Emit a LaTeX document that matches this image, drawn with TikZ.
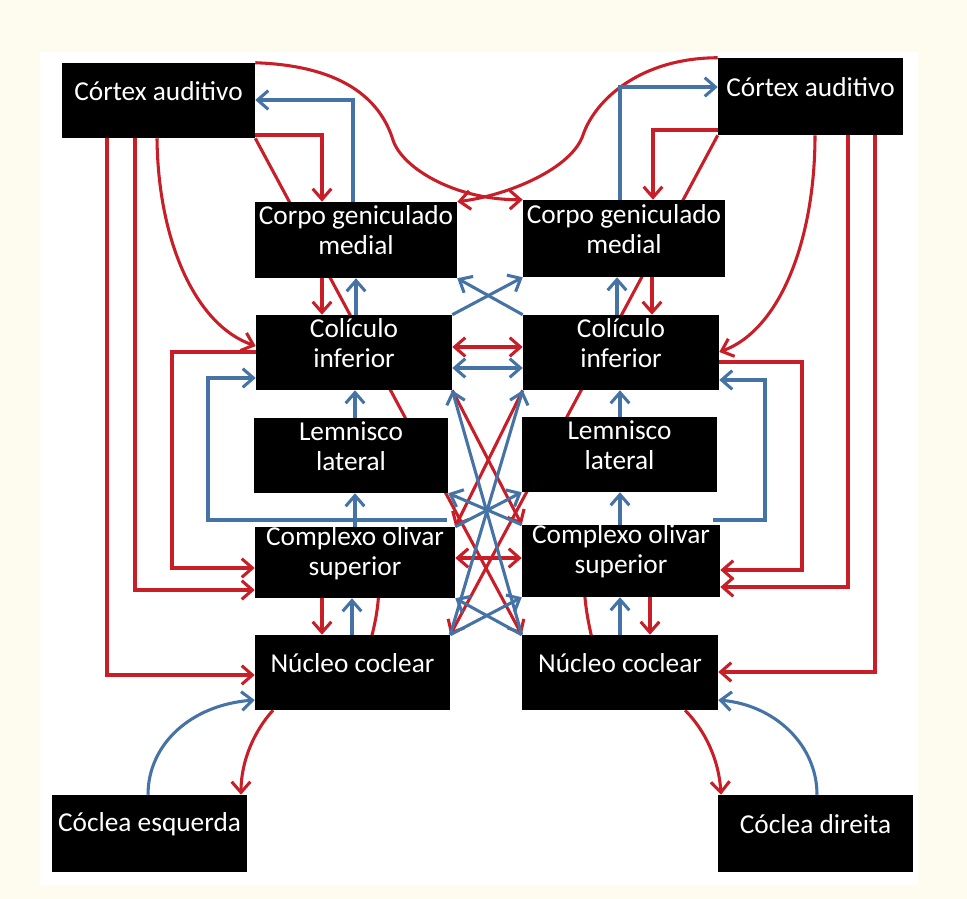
\documentclass[tikz,border=0pt]{standalone}
\usepackage{fontspec}
\setmainfont{Carlito}
\usetikzlibrary{arrows.meta,fit}
\definecolor{rd}{RGB}{200,30,40}
\definecolor{bl}{RGB}{70,115,165}
\definecolor{cream}{RGB}{254,251,239}
\pgfdeclarelayer{back}
\pgfdeclarelayer{bg}
\pgfsetlayers{back,bg,main}
\begin{document}
\begin{tikzpicture}[x=0.75pt,y=-0.75pt,
  nbox/.style={fill=black, text=white, inner sep=0pt, align=center, font=\fontsize{20.5}{22.5}\selectfont},
  rline/.style={draw=rd, line width=2.3pt},
  bline/.style={draw=bl, line width=2.3pt},
  ra/.style={rline, -{Straight Barb[length=8pt,width=14pt]}},
  ba/.style={bline, -{Straight Barb[length=8pt,width=14pt]}},
  rda/.style={rline, {Straight Barb[length=8pt,width=14pt]}-{Straight Barb[length=8pt,width=14pt]}},
  bda/.style={bline, {Straight Barb[length=8pt,width=14pt]}-{Straight Barb[length=8pt,width=14pt]}}]
\useasboundingbox (0,0) rectangle (967,899);
\begin{pgfonlayer}{back}
\fill[cream] (0,0) rectangle (967,899);
\fill[white] (40,52) rectangle (918,885);
\end{pgfonlayer}

\node[nbox, fit={(62,63)(255,138)}] (lctx) {Córtex auditivo};
\node[nbox, fit={(718,58)(903,135)}] (rctx) {Córtex auditivo};
\node[nbox, fit={(255,202)(457,278)}] (lcgm) {Corpo geniculado\\medial};
\node[nbox, fit={(523,200)(725,277)}] (rcgm) {Corpo geniculado\\medial};
\node[nbox, fit={(256,315)(452,390)}] (lci) {Colículo\\inferior};
\node[nbox, fit={(523,315)(719,390)}] (rci) {Colículo\\inferior};
\node[nbox, fit={(254,418)(448,493)}] (lll) {Lemnisco\\lateral};
\node[nbox, fit={(522,417)(717,492)}] (rll) {Lemnisco\\lateral};
\node[nbox, fit={(255,527)(455,598)}] (lcos) {Complexo olivar\\superior};
\node[nbox, fit={(522,525)(720,597)}] (rcos) {Complexo olivar\\superior};
\node[nbox, fit={(255,635)(450,710)}] (lcn) {Núcleo coclear};
\node[nbox, fit={(522,635)(718,710)}] (rcn) {Núcleo coclear};
\node[nbox, fit={(52,795)(247,872)}] (lcoc) {Cóclea esquerda};
\node[nbox, fit={(718,795)(913,872)}] (rcoc) {Cóclea direita};
\coordinate (lbs) at (447,520);
\coordinate (rbs) at (713,520);

\begin{pgfonlayer}{bg}
% top S curves
\draw[ra] (lctx.north east) .. controls (350,66) and (382,105) .. (393,140) .. controls (402,168) and (455,200) .. (rcgm.north west);
\draw[ra] (rctx.north west) .. controls (640,58) and (595,100) .. (583,135) .. controls (572,168) and (510,195) .. (lcgm.north east);
% CGM -> cortex (blue), cortex -> CGM (red)
\draw[ba] (353,0 |- lcgm.north) |- (lctx.east |- 0,100);
\draw[ba] (620,0 |- rcgm.north) |- (rctx.west |- 0,87);
\draw[ra] (lctx.east |- 0,135) -| (322,0 |- lcgm.north);
\draw[ra] (rctx.west |- 0,130) -| (653,0 |- rcgm.north);
% long diagonals
\draw[ra] (lctx.south east) -- (rcn.north west);
\draw[ra] (rctx.south west) -- (lcn.north east);
% CGM <-> CI
\draw[ra] (322,0 |- lcgm.south) -- (322,0 |- lci.north);
\draw[ba] (356,0 |- lci.north) -- (356,0 |- lcgm.south);
\draw[ba] (617,0 |- rci.north) -- (617,0 |- rcgm.south);
\draw[ra] (652,0 |- rcgm.south) -- (652,0 |- rci.north);
\draw[ba] (lci.north east) -- (rcgm.south west);
\draw[ba] (rci.north west) -- (lcgm.south east);
% CI <-> CI
\draw[rda] (lci.east |- 0,347) -- (rci.west |- 0,347);
\draw[bda] (lci.east |- 0,368) -- (rci.west |- 0,368);
% LL -> CI, COS -> LL
\draw[ba] (355,0 |- lll.north) -- (355,0 |- lci.south);
\draw[ba] (355,0 |- lcos.north) -- (355,0 |- lll.south);
\draw[ba] (620,0 |- rll.north) -- (620,0 |- rci.south);
\draw[ba] (620,0 |- rcos.north) -- (620,0 |- rll.south);
% COS <-> CN
\draw[ra] (322,0 |- lcos.south) -- (322,0 |- lcn.north);
\draw[ba] (352,0 |- lcn.north) -- (352,0 |- lcos.south);
\draw[ba] (620,0 |- rcn.north) -- (620,0 |- rcos.south);
\draw[ra] (650,0 |- rcos.south) -- (650,0 |- rcn.north);
\draw[rline] (378,0 |- lcos.center) .. controls (381,605) and (376,622) .. (362,0 |- lcn.center);
\draw[rline] (584,0 |- rcos.center) .. controls (583,605) and (588,622) .. (600,0 |- rcn.center);
% left side
\draw[ra] (107,0 |- lctx.south) |- (lcn.west |- 0,675);
\draw[ra] (135,0 |- lctx.south) |- (lcos.west |- 0,590);
\draw[ra] (157,0 |- lctx.south) .. controls (158,240) and (195,325) .. (lci.west |- 0,346);
\draw[ra] (lci.west |- 0,352) -| (172,460) |- (lcos.west |- 0,568);
\draw[ba] (lbs) -| (208,378) -- (lci.west |- 0,378);
% right side
\draw[ra] (875,0 |- rctx.south) |- (rcn.east |- 0,672);
\draw[ra] (848,0 |- rctx.south) |- (rcos.east |- 0,587);
\draw[ra] (815,0 |- rctx.south) .. controls (815,240) and (780,330) .. (rci.east |- 0,352);
\draw[ra] (rci.east |- 0,362) -| (802,460) |- (rcos.east |- 0,570);
\draw[ba] (rbs) -| (765,380) -- (rci.east |- 0,380);
% bottom
\draw[ba] (148,0 |- lcoc.north) .. controls (148,745) and (190,705) .. (lcn.west |- 0,700);
\draw[ra] (273,0 |- lcn.south) .. controls (255,730) and (241,760) .. (241,0 |- lcoc.north);
\draw[ra] (685,0 |- rcn.south) .. controls (705,730) and (719,760) .. (721,0 |- rcoc.north);
\draw[ba] (817,0 |- rcoc.north) .. controls (817,745) and (775,705) .. (rcn.east |- 0,700);
% center crossings
\draw[ra] (lci.south east) -- (rcos.north west);
\draw[ra] (rci.south west) -- (lcos.north east);
\draw[rda] (lcos.east |- 0,558) -- (rcos.west |- 0,558);
\draw[ba] (lcn.north east) -- (rci.south west);
\draw[ba] (rcn.north west) -- (lci.south east);
\draw[ba] (lcos.north east) -- (rll.south west);
\draw[ba] (rcos.north west) -- (lll.south east);
\draw[ba] (lcn.north east) -- (rcos.south west);
\draw[ba] (rcn.north west) -- (lcos.south east);
\end{pgfonlayer}
\end{tikzpicture}
\end{document}
